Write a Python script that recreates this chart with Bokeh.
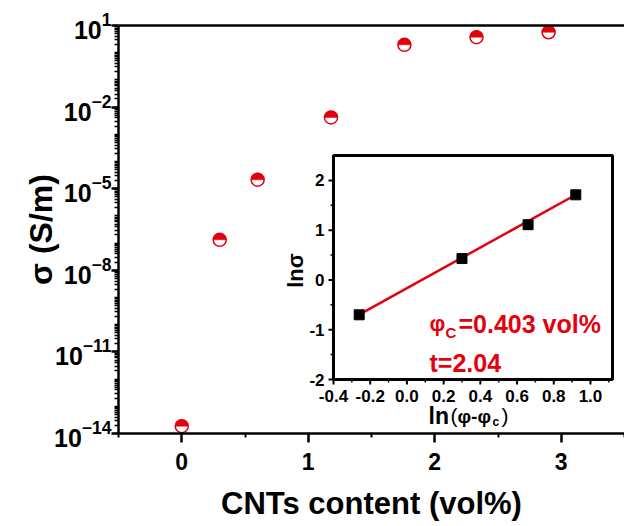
import numpy as np
from bokeh.plotting import figure
from bokeh.models import Range1d, LinearScale, LinearAxis, FixedTicker, LogTickFormatter
from bokeh.core.properties import value
from bokeh.embed import file_html
from bokeh.resources import INLINE

# ---------------- data ----------------
cnt_content = [0.0, 0.30, 0.60, 1.18, 1.76, 2.33, 2.90]          # vol%
sigma_log10 = [-13.73, -6.88, -4.67, -2.38, 0.29, 0.57, 0.75]     # log10(S/m)
sigma = [10.0 ** v for v in sigma_log10]

ln_phi = [-0.26, 0.30, 0.66, 0.92]      # ln(phi - phi_c)
ln_sigma = [-0.70, 0.43, 1.11, 1.71]    # ln sigma
t_exponent = 2.04
fit_intercept = -0.165
phi_c_text = "=0.403 vol%"
t_text = "t=2.04"

x_ticks = [0, 1, 2, 3]
x_minor = [-0.5, 0.5, 1.5, 2.5, 3.5]
y_exps = [-14, -11, -8, -5, -2, 1]
inset_x_ticks = [-0.4, -0.2, 0.0, 0.2, 0.4, 0.6, 0.8, 1.0]
inset_x_labels = ["-0.4", "-0.2", "0.0", "0.2", "0.4", "0.6", "0.8", "1.0"]
inset_x_minor = [-0.3, -0.1, 0.1, 0.3, 0.5, 0.7, 0.9, 1.1]
inset_y_ticks = [-2, -1, 0, 1, 2]
inset_y_labels = ["-2", "-1", "0", "1", "2"]
inset_y_minor = [-1.5, -0.5, 0.5, 1.5]

# ---------------- layout ----------------
RED = "#E3000F"
FNAME = "Liberation Sans"
FONT = value(FNAME)
W, H = 624, 525
FL, FT, FB, FR = 118, 25, 433, 624          # main frame in canvas px
IL, IR, IT, IB = 333, 612, 155, 379         # inset box in canvas px
ix0, ix1 = -0.4, 1.12
iy0, iy1 = -2.0, 2.5

sx = (IR - IL) / (ix1 - ix0)
sy = (IB - IT) / (iy1 - iy0)

p = figure(width=W, height=H, output_backend="svg", toolbar_location=None,
           x_range=Range1d(-0.5, 3.5), y_range=Range1d(1e-14, 1e1),
           y_axis_type="log", title=None,
           min_border_left=FL, min_border_right=W - FR,
           min_border_top=FT, min_border_bottom=H - FB)
p.outline_line_color = None
p.grid.visible = False
p.background_fill_color = "white"

p.extra_x_ranges = {"ix": Range1d(ix0 - (IL - FL) / sx, ix1 + (FR - IR) / sx)}
p.extra_y_ranges = {"iy": Range1d(iy0 - (FB - IB) / sy, iy1 + (IT - FT) / sy)}
p.extra_x_scales = {"ix": LinearScale()}
p.extra_y_scales = {"iy": LinearScale()}

# main axes
xa = p.xaxis[0]
xa.ticker = FixedTicker(ticks=x_ticks, minor_ticks=x_minor)
xa.axis_line_width = 2.5
xa.major_tick_line_width = 2.5
xa.minor_tick_line_width = 2
xa.major_tick_out = 9
xa.major_tick_in = 0
xa.minor_tick_out = 4
xa.minor_tick_in = 0
xa.major_label_text_font = FNAME
xa.major_label_text_font_style = "bold"
xa.major_label_text_font_size = "23px"
xa.major_label_text_color = "black"
xa.major_label_standoff = 10
xa.axis_label = "CNTs content (vol%)"
xa.axis_label_text_font = FNAME
xa.axis_label_text_font_style = "bold"
xa.axis_label_text_font_size = "31px"
xa.axis_label_text_color = "black"
xa.axis_label_standoff = 13

ya = p.yaxis[0]
y_major = [10.0 ** e for e in y_exps]
y_minor = [k * 10.0 ** e for e in range(-14, 1) for k in range(1, 10)] + [10.0]
ya.ticker = FixedTicker(ticks=y_major, minor_ticks=y_minor)
ya.formatter = LogTickFormatter()
ya.axis_line_width = 2.5
ya.major_tick_line_width = 2.5
ya.minor_tick_line_width = 1.5
ya.major_tick_out = 7
ya.major_tick_in = 0
ya.minor_tick_out = 4
ya.minor_tick_in = 0
ya.major_label_text_font = FNAME
ya.major_label_text_font_style = "bold"
ya.major_label_text_font_size = "25px"
ya.major_label_text_color = "black"
ya.major_label_standoff = 0
ya.axis_label = "σ (S/m)"
ya.axis_label_text_font = FNAME
ya.axis_label_text_font_style = "bold"
ya.axis_label_text_font_size = "32px"
ya.axis_label_text_color = "black"
ya.axis_label_standoff = -8

top = LinearAxis(ticker=FixedTicker(ticks=[]), axis_line_width=2.5,
                 major_tick_line_color=None, minor_tick_line_color=None,
                 major_label_standoff=0)
p.add_layout(top, "above")

# main markers: half-filled circles
p.scatter(cnt_content, sigma, marker="circle", size=13, fill_color="white",
          line_color=RED, line_width=1.5)
p.wedge(cnt_content, sigma, radius=6.5, radius_units="screen", start_angle=0,
        end_angle=np.pi, fill_color=RED, line_color=RED, line_width=0.5)

# ---------------- inset ----------------
kw = dict(x_range_name="ix", y_range_name="iy")
p.quad(left=[ix0], right=[ix1], bottom=[iy0], top=[iy1], fill_color="white",
       line_color="black", line_width=3, **kw)

# ticks
p.segment(x0=inset_x_ticks, x1=inset_x_ticks, y0=[iy0] * len(inset_x_ticks),
          y1=[iy0 - 5 / sy] * len(inset_x_ticks), line_color="black", line_width=2, **kw)
p.segment(x0=inset_x_minor, x1=inset_x_minor, y0=[iy0] * len(inset_x_minor),
          y1=[iy0 - 3 / sy] * len(inset_x_minor), line_color="black", line_width=1.5, **kw)
p.segment(x0=[ix0] * len(inset_y_ticks), x1=[ix0 - 5 / sx] * len(inset_y_ticks),
          y0=inset_y_ticks, y1=inset_y_ticks, line_color="black", line_width=2, **kw)
p.segment(x0=[ix0] * len(inset_y_minor), x1=[ix0 - 3 / sx] * len(inset_y_minor),
          y0=inset_y_minor, y1=inset_y_minor, line_color="black", line_width=1.5, **kw)

p.text(x=inset_x_ticks, y=[iy0] * len(inset_x_ticks), text=inset_x_labels, y_offset=10,
       text_align="center", text_baseline="top", text_font=FONT, text_font_style="bold",
       text_font_size="17px", text_color="black", **kw)
p.text(x=[ix0] * len(inset_y_ticks), y=inset_y_ticks, text=inset_y_labels, x_offset=-9,
       text_align="right", text_baseline="middle", text_font=FONT, text_font_style="bold",
       text_font_size="17px", text_color="black", **kw)

# inset axis titles
p.text(x=[ix0], y=[(iy0 + iy1) / 2], text=["lnσ"], x_offset=-38, y_offset=3, angle=np.pi / 2,
       text_align="center", text_baseline="middle", text_font=FONT, text_font_style="bold",
       text_font_size="22px", text_color="black", **kw)
for txt, dx, dy, size, style in [("ln", 95, 36, "23px", "bold"), ("(", 117, 36, "21px", "normal"),
                                 ("φ-φ", 124, 37, "19px", "bold"), ("c", 159, 42, "12px", "bold"),
                                 (")", 168, 36, "21px", "normal")]:
    p.text(x=[ix0], y=[iy0], text=[txt], x_offset=dx, y_offset=dy, text_align="left",
           text_baseline="middle", text_font=FONT, text_font_style=style,
           text_font_size=size, text_color="black", **kw)

# fit line and points
fx = [min(ln_phi), max(ln_phi)]
fy = [fit_intercept + t_exponent * v for v in fx]
p.line(fx, fy, line_color=RED, line_width=2.5, **kw)
p.scatter(ln_phi, ln_sigma, marker="square", size=10, fill_color="black",
          line_color="black", **kw)

# annotation text (vertical centres)
ax_ = ix0 + (429 - IL) / sx
l1 = iy0 + (IB - 323) / sy
l2 = iy0 + (IB - 362.5) / sy
p.text(x=[ax_], y=[l1], text=["φ"], text_align="left", text_baseline="middle",
       text_font=FONT, text_font_style="bold", text_font_size="22px", text_color=RED, **kw)
p.text(x=[ax_], y=[l1], text=["C"], x_offset=16, y_offset=9, text_align="left",
       text_baseline="middle", text_font=FONT, text_font_style="bold",
       text_font_size="15px", text_color=RED, **kw)
p.text(x=[ax_], y=[l1], text=[phi_c_text], x_offset=29, text_align="left",
       text_baseline="middle", text_font=FONT, text_font_style="bold",
       text_font_size="25px", text_color=RED, **kw)
p.text(x=[ax_], y=[l2], text=[t_text], text_align="left", text_baseline="middle",
       text_font=FONT, text_font_style="bold", text_font_size="25px", text_color=RED, **kw)

open("out.html", "w").write(file_html(p, INLINE))
